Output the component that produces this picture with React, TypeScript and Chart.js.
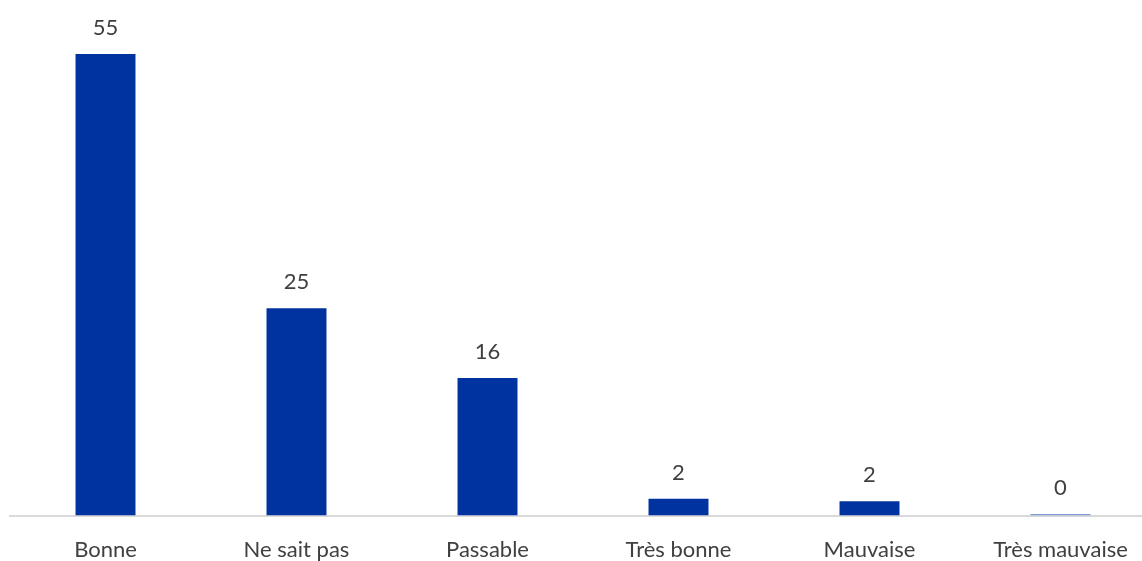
import React, { useEffect, useRef } from "react";
import { Chart, registerables } from "chart.js";

Chart.register(...registerables);

const categories = ["Bonne", "Ne sait pas", "Passable", "Très bonne", "Mauvaise", "Très mauvaise"];
const values = [55.0, 24.7, 16.4, 2.0, 1.7, 0.2];
const barColors = ["#0033A0", "#0033A0", "#0033A0", "#0033A0", "#0033A0", "#7D9AD6"];

const FONT = "Lato, 'Open Sans', sans-serif";

const labelPlugin = {
  id: "valueLabels",
  afterDatasetsDraw(chart: any) {
    const ctx = chart.ctx;
    const meta = chart.getDatasetMeta(0);
    ctx.save();
    ctx.font = `22px ${FONT}`;
    ctx.fillStyle = "#404040";
    ctx.textAlign = "center";
    ctx.textBaseline = "alphabetic";
    meta.data.forEach((bar: any, i: number) => {
      ctx.fillText(String(Math.round(values[i])), bar.x, bar.y - 19);
    });
    ctx.restore();
  },
};

export default function App() {
  const ref = useRef<HTMLCanvasElement | null>(null);
  useEffect(() => {
    if (!ref.current) return;
    const chart = new Chart(ref.current, {
      type: "bar",
      data: {
        labels: categories,
        datasets: [
          {
            data: values,
            backgroundColor: barColors,
            barPercentage: 0.628,
            categoryPercentage: 0.5,
          },
        ],
      },
      options: {
        animation: false,
        responsive: false,
        layout: { padding: { left: 10, right: 0, top: 54, bottom: 6 } },
        plugins: { legend: { display: false }, tooltip: { enabled: false } },
        scales: {
          x: {
            grid: { display: false, drawTicks: false },
            border: { display: true, color: "#d9d9d9", width: 2 },
            ticks: { color: "#404040", font: { family: FONT, size: 22 }, padding: 21, maxRotation: 0, autoSkip: false },
          },
          y: {
            display: false,
            min: 0,
            max: 55,
          },
        },
      },
      plugins: [labelPlugin],
    });
    return () => chart.destroy();
  }, []);
  return (
    <div style={{ position: "fixed", left: 0, top: 0, width: 1142, height: 561, overflow: "hidden", background: "#fff" }}>
      <canvas ref={ref} width={1156} height={590} style={{ display: "block" }} />
    </div>
  );
}
